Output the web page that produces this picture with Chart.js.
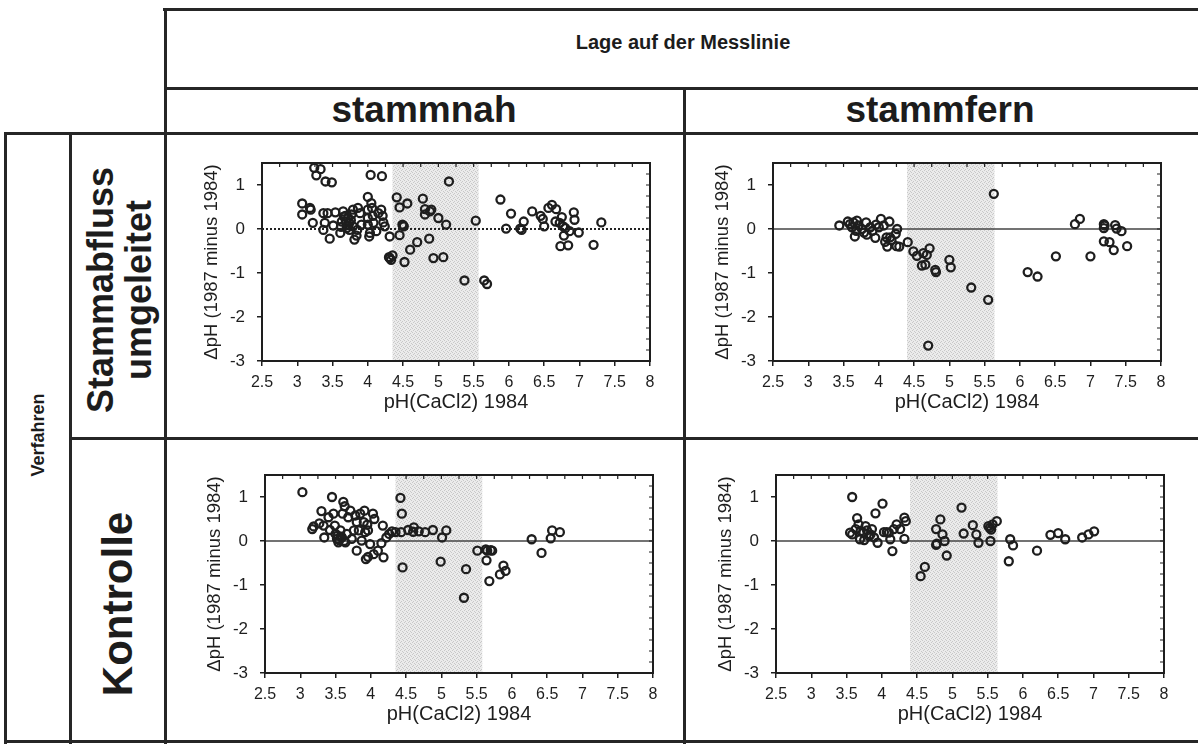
<!DOCTYPE html>
<html>
<head>
<meta charset="utf-8">
<script src="https://cdn.jsdelivr.net/npm/chart.js@4.4.1/dist/chart.umd.min.js"></script>
<style>
body { margin: 0; background: #fff; }
#page { position: relative; width: 1198px; height: 744px; overflow: hidden; font-family: "Liberation Sans", Arial, Helvetica, sans-serif; color: #1c1c1c; }
.ln { position: absolute; background: #262626; }
.lbl { position: absolute; font-weight: bold; white-space: nowrap; line-height: 1.05; text-align: center; transform: translate(-50%, -50%); }
.rot { transform: translate(-50%, -50%) rotate(-90deg); }
canvas { position: absolute; }
</style>
</head>
<body>
<div id="page">
  <div class="ln" style="left:163px;top:8px;width:1035px;height:3px"></div>
  <div class="ln" style="left:164px;top:8px;width:3px;height:736px"></div>
  <div class="ln" style="left:164px;top:87px;width:1034px;height:3px"></div>
  <div class="ln" style="left:683px;top:87px;width:3px;height:657px"></div>
  <div class="ln" style="left:4px;top:132px;width:1194px;height:3px"></div>
  <div class="ln" style="left:4px;top:132px;width:3px;height:612px"></div>
  <div class="ln" style="left:69px;top:132px;width:3px;height:612px"></div>
  <div class="ln" style="left:69px;top:437px;width:1129px;height:3px"></div>
  <div class="ln" style="left:4px;top:740px;width:1194px;height:3px"></div>

  <div class="lbl" style="left:683px;top:42px;font-size:20px">Lage auf der Messlinie</div>
  <div class="lbl" style="left:424px;top:110px;font-size:37px">stammnah</div>
  <div class="lbl" style="left:940px;top:110px;font-size:37px">stammfern</div>
  <div class="lbl rot" style="left:38px;top:435px;font-size:18px">Verfahren</div>
  <div class="lbl rot" style="left:120px;top:290px;font-size:36px">Stammabfluss<br>umgeleitet</div>
  <div class="lbl rot" style="left:118px;top:604px;font-size:42px">Kontrolle</div>

  <canvas id="nahUmg" width="512" height="298" style="left:168px;top:136px"></canvas>
  <canvas id="fernUmg" width="512" height="298" style="left:679px;top:136px"></canvas>
  <canvas id="nahKon" width="512" height="298" style="left:171px;top:448px"></canvas>
  <canvas id="fernKon" width="512" height="298" style="left:682px;top:448px"></canvas>
</div>
<script>
// stammnah, Stammabfluss umgeleitet
const phNahUmg = [3.24, 3.33, 3.27, 3.40, 3.49, 4.04, 4.20, 3.07, 3.07, 3.18, 3.19, 3.22, 3.37, 3.39, 3.37, 3.43, 3.46, 3.51, 3.54, 3.61,
  3.65, 3.69, 3.72, 3.74, 3.77, 3.79, 3.81, 3.84, 3.85, 3.86, 3.89, 3.91, 3.70, 3.63, 3.74, 3.79, 3.66, 3.71, 3.76, 3.68, 3.62,
  4.00, 4.00, 4.00, 4.00, 4.02, 4.03, 4.05, 4.06, 4.07, 4.08, 4.12, 4.15, 4.19, 4.21, 4.22, 4.24, 4.31, 4.30, 4.35, 4.33, 4.31,
  4.41, 4.45, 4.56, 4.45, 4.49, 4.51, 4.50, 4.52, 4.60, 4.70, 4.78, 4.81, 4.81, 4.87, 4.88, 4.90, 4.93, 5.00, 5.07, 5.11, 5.15,
  5.37, 5.53, 5.65, 5.69, 5.88, 6.03, 5.96, 6.18, 6.21, 6.16, 6.33, 6.45, 6.48, 6.50, 6.56, 6.61, 6.67, 6.66, 6.72, 6.75, 6.77,
  6.78, 6.80, 6.73, 6.84, 6.86, 6.92, 6.93, 6.99, 7.20, 7.31];
const dphNahUmg = [1.39, 1.36, 1.22, 1.08, 1.06, 1.23, 1.20, 0.58, 0.33, 0.48, 0.44, 0.14, 0.36, 0.14, -0.02, 0.36, -0.22, 0.08, 0.38, -0.09,
  0.40, 0.17, 0.25, 0.14, 0.33, 0.06, -0.24, -0.15, -0.02, 0.48, 0.36, 0.10, 0.02, 0.17, -0.02, 0.44, 0.28, 0.09, 0.20, 0.30, 0.05,
  0.73, 0.44, 0.25, 0.10, -0.17, -0.09, 0.59, 0.48, 0.30, 0.14, -0.05, 0.36, 0.44, 0.30, 0.15, 0.06, -0.17, -0.64, -0.60, -0.70, -0.66,
  0.72, 0.49, 0.58, -0.14, 0.10, 0.06, 0.08, -0.75, -0.47, -0.30, 0.69, 0.45, 0.33, -0.22, 0.40, 0.44, -0.66, 0.25, -0.64, 0.10, 1.08,
  -1.17, 0.19, -1.17, -1.25, 0.67, 0.35, 0.01, -0.02, 0.17, 0.01, 0.40, 0.30, 0.23, 0.06, 0.48, 0.55, 0.45, 0.17, 0.14, 0.27, 0.06,
  -0.15, 0.02, -0.39, -0.37, -0.05, 0.38, 0.21, -0.08, -0.36, 0.15];

// stammfern, Stammabfluss umgeleitet
const phFernUmg = [3.44, 3.56, 3.59, 3.62, 3.64, 3.66, 3.69, 3.68, 3.71, 3.76, 3.79, 3.82, 3.83, 3.88, 3.91, 3.95, 3.96, 4.00, 4.03, 4.07,
  4.09, 4.11, 4.12, 4.15, 4.16, 4.18, 4.24, 4.26, 4.25, 4.29, 4.41, 4.49, 4.54, 4.61, 4.63, 4.66, 4.68, 4.72, 4.80, 4.81, 5.00,
  5.02, 5.31, 5.55, 4.70, 5.63, 6.11, 6.25, 6.51, 6.78, 6.85, 7.00, 7.19, 7.19, 7.20, 7.19, 7.27, 7.33, 7.35, 7.37, 7.44, 7.52];
const dphFernUmg = [0.08, 0.17, 0.11, 0.04, 0.15, -0.17, 0.19, -0.04, 0.08, 0.00, -0.08, 0.15, -0.13, 0.04, -0.04, -0.20, 0.10, 0.04, 0.23, 0.08,
  -0.29, -0.19, -0.40, 0.17, -0.19, -0.25, -0.11, 0.00, -0.39, -0.40, -0.30, -0.51, -0.61, -0.83, -0.55, -0.81, -0.59, -0.44, -0.93, -0.98, -0.70,
  -0.87, -1.33, -1.61, -2.65, 0.80, -0.98, -1.08, -0.62, 0.11, 0.23, -0.62, 0.11, 0.02, 0.08, -0.28, -0.30, -0.48, 0.09, 0.01, -0.05, -0.39];

// stammnah, Kontrolle
const phNahKon = [3.03, 3.45, 3.17, 3.19, 3.27, 3.30, 3.33, 3.34, 3.40, 3.42, 3.47, 3.49, 3.50, 3.52, 3.54, 3.57, 3.59, 3.61, 3.63, 3.60,
  3.64, 3.66, 3.68, 3.71, 3.73, 3.76, 3.78, 3.80, 3.80, 3.83, 3.85, 3.87, 3.90, 3.91, 3.92, 3.95, 3.96, 3.93, 3.96, 3.99, 4.03,
  4.05, 4.04, 4.10, 4.15, 4.17, 4.18, 4.22, 4.26, 4.30, 4.35, 4.42, 4.44, 4.43, 4.45, 4.53, 4.61, 4.60, 4.68, 4.77, 4.88, 4.99,
  5.01, 5.07, 5.32, 5.35, 5.51, 5.63, 5.64, 5.68, 5.65, 5.70, 5.72, 5.83, 5.88, 5.91, 6.28, 6.42, 6.55, 6.57, 6.68,
  3.55, 3.58, 3.62, 3.53];
const dphNahKon = [1.11, 1.00, 0.27, 0.33, 0.40, 0.68, 0.35, 0.08, 0.54, 0.25, 0.62, 0.35, 0.16, 0.05, -0.03, 0.24, 0.08, 0.89, 0.79, 0.62,
  -0.03, 0.16, 0.54, 0.69, 0.05, 0.24, 0.58, 0.43, -0.22, 0.24, 0.62, 0.01, 0.43, 0.69, 0.20, 0.37, 0.24, -0.41, -0.36, -0.07, 0.62,
  0.50, -0.30, -0.22, -0.05, 0.35, -0.37, 0.08, 0.16, 0.22, 0.20, 0.98, 0.62, 0.20, -0.60, 0.25, 0.31, 0.21, 0.22, 0.20, 0.25, -0.47,
  0.08, 0.24, -1.29, -0.64, -0.22, -0.19, -0.44, -0.91, -0.22, -0.21, -0.22, -0.76, -0.56, -0.68, 0.04, -0.27, 0.06, 0.24, 0.20,
  0.02, 0.10, 0.00, 0.12];

// stammfern, Kontrolle
const phFernKon = [3.58, 3.55, 3.58, 3.65, 3.67, 3.70, 3.63, 3.69, 3.74, 3.77, 3.79, 3.82, 3.75, 3.84, 3.86, 3.89, 3.91, 3.94, 4.01, 4.03,
  4.07, 4.10, 4.12, 4.15, 4.17, 4.21, 4.26, 4.32, 4.34, 4.32, 4.55, 4.61, 4.77, 4.77, 4.78, 4.83, 4.86, 4.89, 4.92, 5.13, 5.16,
  5.29, 5.34, 5.37, 5.51, 5.53, 5.55, 5.57, 5.63, 5.54, 5.82, 5.86, 5.80, 6.20, 6.39, 6.50, 6.60, 6.84, 6.93, 7.01];
const dphFernKon = [1.00, 0.19, 0.15, 0.52, 0.38, 0.23, 0.27, 0.04, 0.19, 0.34, 0.24, 0.11, 0.02, 0.15, 0.27, 0.08, 0.63, -0.04, 0.85, 0.20,
  0.20, 0.19, 0.04, -0.23, 0.27, 0.38, 0.27, 0.53, 0.45, 0.05, -0.80, -0.59, 0.27, -0.09, -0.06, 0.49, 0.15, 0.00, -0.33, 0.76, 0.17,
  0.36, 0.15, -0.04, 0.34, 0.30, 0.26, 0.38, 0.45, 0.00, 0.04, -0.10, -0.46, -0.22, 0.14, 0.18, 0.04, 0.08, 0.15, 0.22];

// grau hinterlegter pH-Bereich je Panel
const shadeNahUmg = [4.35, 5.57];
const shadeFernUmg = [4.40, 5.64];
const shadeNahKon = [4.35, 5.58];
const shadeFernKon = [4.40, 5.64];

const xTitle = 'pH(CaCl2) 1984';
const yTitle = '\u0394pH (1987 minus 1984)';

const ink = '#1e1e1e';
const fontFam = '"Liberation Sans", Arial, Helvetica, sans-serif';

// punktierte Schraffur wie im Druck
function stipple(ctx) {
  const c = document.createElement('canvas');
  c.width = 4; c.height = 4;
  const g = c.getContext('2d');
  g.fillStyle = '#ebebeb'; g.fillRect(0, 0, 4, 4);
  g.fillStyle = '#c8c8c8';
  g.fillRect(0, 0, 1, 1); g.fillRect(2, 1, 1, 1); g.fillRect(1, 2, 1, 1); g.fillRect(3, 3, 1, 1);
  return ctx.createPattern(c, 'repeat');
}

const panelDecor = {
  id: 'panelDecor',
  beforeDatasetsDraw(chart, args, opts) {
    const {ctx, chartArea: a, scales: {x, y}} = chart;
    ctx.save();
    const x0 = x.getPixelForValue(opts.shade[0]);
    const x1 = x.getPixelForValue(opts.shade[1]);
    ctx.fillStyle = stipple(ctx);
    ctx.fillRect(x0, a.top, x1 - x0, a.bottom - a.top);
    const y0 = y.getPixelForValue(0);
    ctx.strokeStyle = opts.dotted ? '#222' : '#444';
    ctx.lineWidth = opts.dotted ? 2 : 1.5;
    ctx.setLineDash(opts.dotted ? [2, 2] : []);
    ctx.beginPath();
    ctx.moveTo(a.left, y0);
    ctx.lineTo(a.right, y0);
    ctx.stroke();
    ctx.restore();
  },
  afterDatasetsDraw(chart) {
    const {ctx, chartArea: a, scales: {x, y}} = chart;
    ctx.save();
    ctx.strokeStyle = ink;
    ctx.lineWidth = 2;
    ctx.strokeRect(a.left, a.top, a.right - a.left, a.bottom - a.top);
    // kleine Striche innen oben und rechts
    ctx.lineWidth = 1.2;
    ctx.beginPath();
    for (let v = x.min; v <= x.max + 1e-9; v += 0.25) {
      const px = x.getPixelForValue(v);
      ctx.moveTo(px, a.top);
      ctx.lineTo(px, a.top + 4);
    }
    for (let v = y.min; v <= y.max + 1e-9; v += 0.25) {
      const py = y.getPixelForValue(v);
      ctx.moveTo(a.right, py);
      ctx.lineTo(a.right - 4, py);
    }
    ctx.stroke();
    ctx.restore();
  }
};

function panel(id, xs, ys, shade, dotted) {
  const pts = xs.map((v, i) => ({x: v, y: ys[i]}));
  return new Chart(document.getElementById(id), {
    type: 'scatter',
    data: {
      datasets: [{
        data: pts,
        pointRadius: 4,
        pointBorderWidth: 2.3,
        pointBorderColor: ink,
        pointBackgroundColor: 'rgba(0,0,0,0)'
      }]
    },
    options: {
      responsive: false,
      animation: false,
      events: [],
      layout: {padding: {top: 27, right: 30, left: 0, bottom: 0}},
      plugins: {
        legend: {display: false},
        tooltip: {enabled: false},
        panelDecor: {shade: shade, dotted: dotted}
      },
      scales: {
        x: {
          type: 'linear',
          min: 2.5,
          max: 8,
          afterFit: s => { s.height = 73; },
          ticks: {stepSize: 0.5, padding: 7, color: ink, font: {family: fontFam, size: 16},
            callback: v => String(v)},
          grid: {drawOnChartArea: false, drawTicks: true, tickLength: 5, color: ink, lineWidth: 1.5},
          border: {display: true, color: ink, width: 2},
          title: {display: true, text: xTitle, color: ink, padding: {top: 0, bottom: 20}, font: {family: fontFam, size: 20}}
        },
        y: {
          type: 'linear',
          min: -3,
          max: 1.5,
          afterFit: s => { s.width = 94; },
          ticks: {stepSize: 1, includeBounds: false, padding: 12, color: ink, font: {family: fontFam, size: 17}},
          grid: {drawOnChartArea: false, drawTicks: true, tickLength: 5, color: ink, lineWidth: 1.5},
          border: {display: true, color: ink, width: 2},
          title: {display: true, text: yTitle, color: ink, padding: {top: 33, bottom: 0}, font: {family: fontFam, size: 18.5}}
        }
      }
    },
    plugins: [panelDecor]
  });
}

panel('nahUmg', phNahUmg, dphNahUmg, shadeNahUmg, true);
panel('fernUmg', phFernUmg, dphFernUmg, shadeFernUmg, false);
panel('nahKon', phNahKon, dphNahKon, shadeNahKon, false);
panel('fernKon', phFernKon, dphFernKon, shadeFernKon, false);
</script>
</body>
</html>
